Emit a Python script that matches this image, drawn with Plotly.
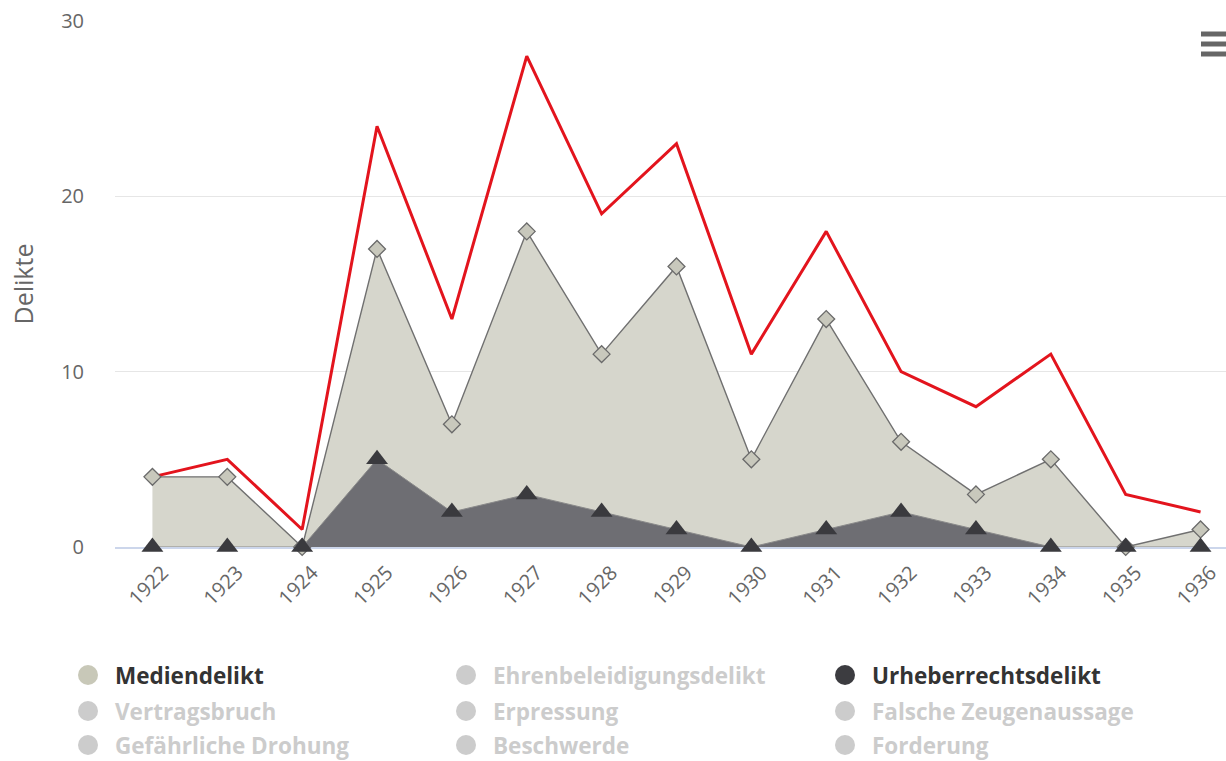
import plotly.graph_objects as go

years = ["1922", "1923", "1924", "1925", "1926", "1927", "1928", "1929",
         "1930", "1931", "1932", "1933", "1934", "1935", "1936"]
total = [4, 5, 1, 24, 13, 28, 19, 23, 11, 18, 10, 8, 11, 3, 2]
mediendelikt = [4, 4, 0, 17, 7, 18, 11, 16, 5, 13, 6, 3, 5, 0, 1]
urheberrechtsdelikt = [0, 0, 0, 5, 2, 3, 2, 1, 0, 1, 2, 1, 0, 0, 0]

legend_names = [
    ["Mediendelikt", "Vertragsbruch", "Gefährliche Drohung"],
    ["Ehrenbeleidigungsdelikt", "Erpressung", "Beschwerde"],
    ["Urheberrechtsdelikt", "Falsche Zeugenaussage", "Forderung"],
]
legend_active = {"Mediendelikt": "#c8c8b8", "Urheberrechtsdelikt": "#3c3c40"}

W, H = 1226, 761
L, R, T, B = 115, 0, 21, 214
pw, ph = W - L - R, H - T - B

fig = go.Figure()

fig.add_trace(go.Scatter(
    x=years, y=total, mode="lines", name="Gesamt",
    line=dict(color="#e3141d", width=3), showlegend=False,
))
fig.add_trace(go.Scatter(
    x=years, y=mediendelikt, mode="lines+markers", name="Mediendelikt",
    fill="tozeroy", fillcolor="rgb(214,214,204)",
    line=dict(color="#707070", width=1.4),
    marker=dict(symbol="diamond", size=13, color="#c8c8bc",
                line=dict(color="#6a6a6a", width=1.3)),
    cliponaxis=False, showlegend=False,
))
fig.add_trace(go.Scatter(
    x=years, y=urheberrechtsdelikt, mode="lines+markers", name="Urheberrechtsdelikt",
    fill="tozeroy", fillcolor="rgb(110,110,115)",
    line=dict(color="#8a8a8a", width=1),
    marker=dict(symbol="triangle-up", size=19, color="#3a3a3e",
                line=dict(color="#3a3a3e", width=0)),
    cliponaxis=False, showlegend=False,
))

fig.update_xaxes(
    type="category", range=[-0.5, 14.34],
    showline=True, linecolor="#ccd6eb", linewidth=2, layer="below traces",
    showgrid=False, ticks="", tickangle=-45,
    ticklabelshift=10, ticklabelstandoff=4,
    tickfont=dict(family="Open Sans", size=20, color="#666666"),
)
fig.update_yaxes(
    range=[0, 30], tickvals=[0, 10, 20, 30],
    showgrid=True, gridcolor="#e6e6e6", gridwidth=1,
    zeroline=False, showline=False, ticks="",
    tickfont=dict(family="Open Sans", size=20, color="#666666"),
    ticklabelstandoff=30,
    title=dict(text="Delikte", font=dict(family="Open Sans", size=25, color="#666666"),
               standoff=20),
)

def px2x(px):
    return (px - L) / pw

def px2y(py):
    return (H - B - py) / ph

shapes = []
annotations = []
col_x = [88, 466, 845]
row_y = [675, 711, 745]
for ci, col in enumerate(legend_names):
    for ri, name in enumerate(col):
        cx, cy = col_x[ci], row_y[ri]
        active = name in legend_active
        sym_color = legend_active.get(name, "#cccccc")
        shapes.append(dict(
            type="circle", xref="paper", yref="paper",
            xsizemode="pixel", ysizemode="pixel",
            xanchor=px2x(cx), yanchor=px2y(cy),
            x0=-10, x1=10, y0=-10, y1=10,
            fillcolor=sym_color, line=dict(width=0),
        ))
        annotations.append(dict(
            text=name, xref="paper", yref="paper",
            x=px2x(cx + 25), y=px2y(cy), xanchor="left", yanchor="middle",
            showarrow=False,
            font=dict(family="Open Sans", size=22.5,
                      color="#333333" if active else "#cccccc", weight="bold"),
        ))

# export menu icon
for yy in [34, 44, 54]:
    shapes.append(dict(
        type="line", xref="paper", yref="paper",
        x0=px2x(1201), x1=px2x(1226), y0=px2y(yy), y1=px2y(yy),
        line=dict(color="#666666", width=5),
    ))

fig.update_layout(
    width=W, height=H,
    margin=dict(l=L, r=R, t=T, b=B),
    paper_bgcolor="white", plot_bgcolor="white",
    shapes=shapes, annotations=annotations,
    showlegend=False,
)

fig.write_html(
    "out.html",
    config={"displayModeBar": False},
    post_script="document.body.style.margin='0';document.body.style.overflow='hidden';",
)
